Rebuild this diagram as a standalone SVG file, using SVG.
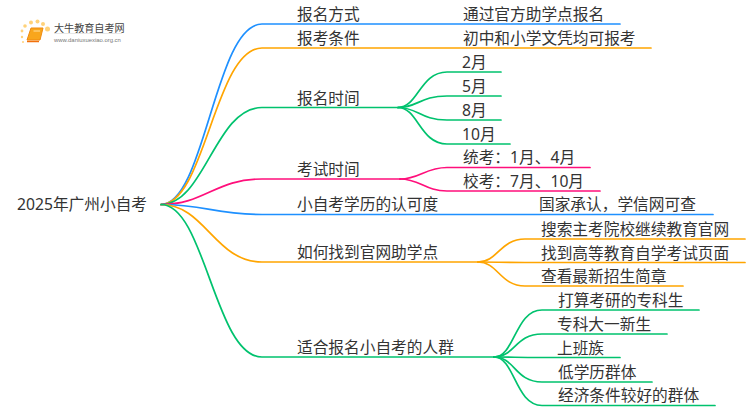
<svg xmlns="http://www.w3.org/2000/svg" width="750" height="410" viewBox="0 0 750 410">
<style>
text{font-family:"Noto Sans","Noto Sans CJK SC",sans-serif;font-size:15.7px;fill:#333}
.c{fill:none;stroke-width:1.7;stroke-linecap:round}
.b{stroke:#1e90ff}.o{stroke:#ffa500}.g{stroke:#00c26e}.p{stroke:#ff0f7b}
</style>
<rect width="750" height="410" fill="#fff"/>
<g id="connectors">
<path class="c b" d="M161 204.500C205 204.500 215 24 262 24H620"/>
<path class="c o" d="M161 204.500C205 204.500 215 48 262 48H651"/>
<path class="c g" d="M161 204.500C205 204.500 215 107.500 262 107.500H398"/>
<path class="c p" d="M161 204.500C205 204.500 215 179 262 179H400"/>
<path class="c b" d="M161 204.500C205 204.500 215 214.500 262 214.500H713"/>
<path class="c o" d="M161 204.500C205 204.500 215 262 262 262H478"/>
<path class="c g" d="M161 204.500C205 204.500 215 357 262 357H494"/>
<path class="c g" d="M398 107.500C418 107.500 420 72 447 72H501"/>
<path class="c g" d="M398 107.500C418 107.500 420 96 447 96H501"/>
<path class="c g" d="M398 107.500C418 107.500 420 120 447 120H501"/>
<path class="c g" d="M398 107.500C418 107.500 420 144 447 144H510"/>
<path class="c p" d="M400 179C420 179 425 167.500 447 167.500H590"/>
<path class="c p" d="M400 179C420 179 425 191 447 191H600"/>
<path class="c o" d="M478 262C498 262 500 239 525 239H745"/>
<path class="c o" d="M478 262C498 262 500 262.500 525 262.500H745"/>
<path class="c o" d="M478 262C498 262 500 286 525 286H683"/>
<path class="c g" d="M494 357C515 357 515 310 542 310H699"/>
<path class="c g" d="M494 357C515 357 515 334 542 334H667"/>
<path class="c g" d="M494 357C515 357 515 357.500 542 357.500H620"/>
<path class="c g" d="M494 357C515 357 515 382 542 382H652"/>
<path class="c g" d="M494 357C515 357 515 405.500 542 405.500H715"/>
</g>
<g id="logo">
<g fill="#ffd27a"><circle cx="25" cy="26" r="1.800"/><circle cx="31" cy="22.500" r="2"/><circle cx="37.500" cy="21.500" r="2"/><circle cx="43" cy="24" r="2"/><circle cx="47.500" cy="29" r="2.500"/><circle cx="22" cy="31" r="1.400"/><circle cx="22" cy="37" r="1.200"/><circle cx="23" cy="42" r="1"/></g>
<path d="M31 28H43L40 40H27Z" fill="#f9a61c" stroke="#ef8a10"/>
<path d="M27 41.500H39" stroke="#f2700c" stroke-width="1.500"/>
<path d="M33.500 31H40" stroke="#ffe0a0" stroke-width="1"/>
<text x="54" y="31.500" style="font-size:10.100px;fill:#444">大牛教育自考网</text>
<path d="M54 33.500H122" stroke="#ddd" stroke-width=".7"/>
<text x="54" y="41.500" style="font-size:5.900px;fill:#777;font-family:'Liberation Sans',sans-serif">www.daniuxuexiao.org.cn</text>
</g>
<g id="root"><text x="17" y="210">2025年广州小自考</text></g>
<g id="n1"><text x="297" y="20">报名方式</text></g>
<g id="n1a"><text x="463" y="20">通过官方助学点报名</text></g>
<g id="n2"><text x="297" y="44">报考条件</text></g>
<g id="n2a"><text x="463" y="44">初中和小学文凭均可报考</text></g>
<g id="n3"><text x="297" y="104">报名时间</text></g>
<g id="n3a"><text x="462" y="68">2月</text></g>
<g id="n3b"><text x="462" y="92">5月</text></g>
<g id="n3c"><text x="462" y="116">8月</text></g>
<g id="n3d"><text x="462" y="140">10月</text></g>
<g id="n4"><text x="297" y="175">考试时间</text></g>
<g id="n4a"><text x="463" y="163">统考：1月、4月</text></g>
<g id="n4b"><text x="463" y="187">校考：7月、10月</text></g>
<g id="n5"><text x="297" y="210">小自考学历的认可度</text></g>
<g id="n5a"><text x="539" y="210">国家承认，学信网可查</text></g>
<g id="n6"><text x="297" y="258">如何找到官网助学点</text></g>
<g id="n6a"><text x="541" y="235">搜索主考院校继续教育官网</text></g>
<g id="n6b"><text x="541" y="259">找到高等教育自学考试页面</text></g>
<g id="n6c"><text x="541" y="282">查看最新招生简章</text></g>
<g id="n7"><text x="297" y="353">适合报名小自考的人群</text></g>
<g id="n7a"><text x="558" y="306">打算考研的专科生</text></g>
<g id="n7b"><text x="557" y="330">专科大一新生</text></g>
<g id="n7c"><text x="557" y="354">上班族</text></g>
<g id="n7d"><text x="558" y="378">低学历群体</text></g>
<g id="n7e"><text x="558" y="401">经济条件较好的群体</text></g>
</svg>
